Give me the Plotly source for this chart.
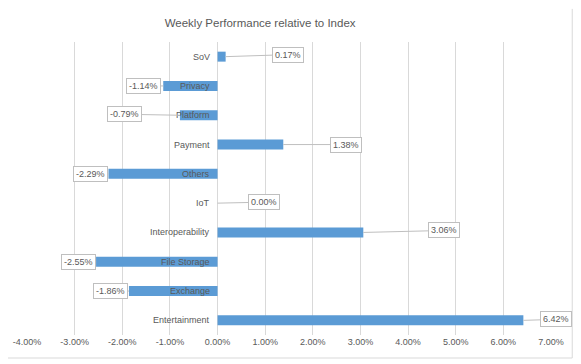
import plotly.graph_objects as go

categories = ["SoV", "Privacy", "Platform", "Payment", "Others", "IoT",
              "Interoperability", "File Storage", "Exchange", "Entertainment"]
values = [0.0017, -0.0114, -0.0079, 0.0138, -0.0229, 0.0000,
          0.0306, -0.0255, -0.0186, 0.0642]
tick_vals = [-0.04, -0.03, -0.02, -0.01, 0, 0.01, 0.02, 0.03, 0.04, 0.05, 0.06, 0.07]
tick_text = [f"{v*100:.2f}%" for v in tick_vals]

# pixel offsets of each data-label box from the bar end (label layout only)
label_dx = [62, -20, -55, 63, -18, 46, 81, -18, -18, 33]
label_dy = [-2, 0, -1, 0, 0, -1, -2, 0, 0, -1]

GREY = "#595959"
FONT = "Liberation Sans"

fig = go.Figure(go.Bar(
    x=values, y=categories, orientation="h",
    marker=dict(color="#5b9bd5", line=dict(width=0)),
    hoverinfo="x+y",
))

annotations = []
for c in categories:
    annotations.append(dict(
        x=0, y=c, xref="x", yref="y", text=c, showarrow=False,
        xanchor="right", xshift=-6, font=dict(family=FONT, size=9, color=GREY)))
for c, v, dx, dy in zip(categories, values, label_dx, label_dy):
    annotations.append(dict(
        x=v, y=c, xref="x", yref="y", text=f"{v*100:.2f}%",
        showarrow=True, arrowhead=0, arrowwidth=1, arrowcolor="#bfbfbf",
        ax=dx, ay=dy, standoff=0,
        bgcolor="white", bordercolor="#bfbfbf", borderwidth=1, borderpad=2,
        font=dict(family=FONT, size=9, color=GREY)))

# page body adds an 8px margin, so the figure is sized to fit the window
fig.update_layout(
    width=573, height=356,
    margin=dict(l=19, r=30, t=34, b=29, autoexpand=False),
    paper_bgcolor="white", plot_bgcolor="white",
    showlegend=False, bargap=0.66,
    title=dict(text="Weekly Performance relative to Index",
               x=0.44, xanchor="center", y=0.958, yanchor="middle",
               font=dict(family=FONT, size=11.5, color=GREY)),
    xaxis=dict(range=[-0.04, 0.07], tickvals=tick_vals, ticktext=tick_text,
               automargin=False,
               showgrid=True, gridcolor="#d9d9d9", gridwidth=1,
               zeroline=True, zerolinecolor="#d9d9d9", zerolinewidth=1,
               showline=False, ticks="",
               tickfont=dict(family=FONT, size=9, color=GREY)),
    yaxis=dict(categoryorder="array", categoryarray=categories,
               autorange="reversed", showticklabels=False, automargin=False,
               showgrid=False, zeroline=False, showline=False, ticks=""),
    annotations=annotations,
    shapes=[
        dict(type="line", xref="paper", yref="paper",
             x0=1.0405, x1=1.0405, y0=1.113, y1=-0.0785,
             line=dict(color="#d9d9d9", width=1)),
        dict(type="line", xref="paper", yref="paper",
             x0=-0.038, x1=1.0405, y0=-0.0785, y1=-0.0785,
             line=dict(color="#d9d9d9", width=1)),
    ],
)

fig.write_html("out.html")
